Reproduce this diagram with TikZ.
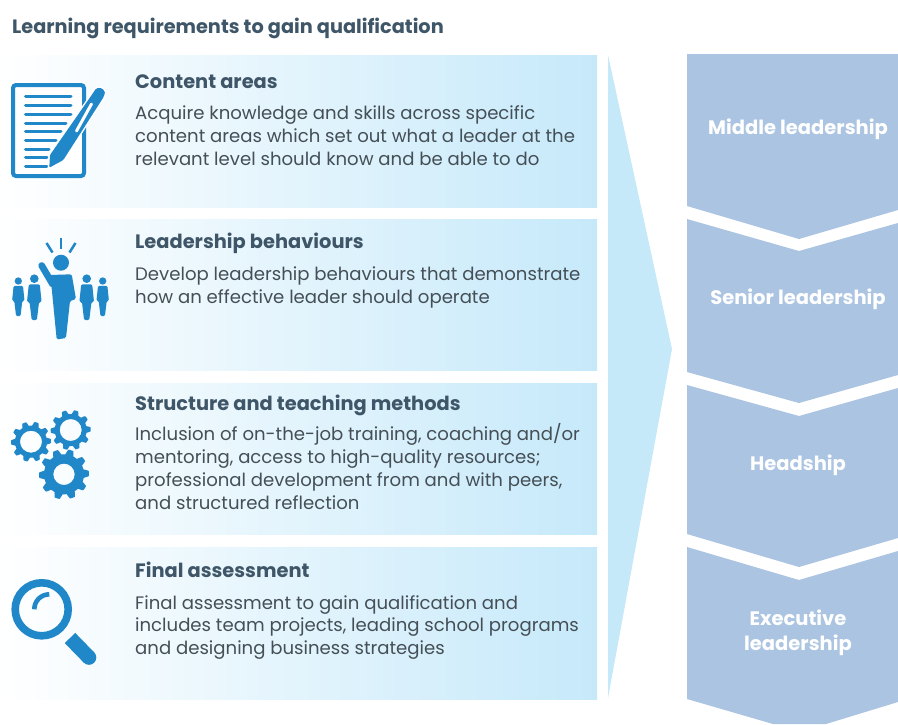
\documentclass[tikz,border=0pt]{standalone}
\usepackage{fontspec}
\setmainfont{Poppins}
\definecolor{iconblue}{HTML}{2087C8}
\definecolor{panelblue}{HTML}{C6E9FA}
\definecolor{chevblue}{HTML}{ABC4E2}
\definecolor{headcol}{HTML}{3E5667}
\definecolor{bodycol}{HTML}{454F56}
\tikzset{
  panel/.style={left color=white,right color=panelblue,shading angle=90},
  chev/.style={fill=chevblue},
  titletxt/.style={anchor=base west,inner sep=0,text=headcol,font=\fontsize{19.3}{22}\selectfont\bfseries},
  headtxt/.style={anchor=base west,inner sep=0,text=headcol,font=\fontsize{19.4}{22}\selectfont\bfseries},
  bodytxt/.style={anchor=north west,inner sep=0,align=left,text=bodycol,font=\fontsize{18.1}{22.8}\selectfont},
  chevtxt/.style={inner sep=0,align=center,text=white,font=\fontsize{19.5}{25}\selectfont\bfseries},
  icon/.style={fill=iconblue,draw=none},
  docline/.style={draw=iconblue,line width=3pt,line cap=round}
}
\newcommand{\personfig}[3]{%
  \begin{scope}[shift={(#1,#2)},scale=#3]
    \fill[iconblue] (0,0) circle (4.3);
    \fill[iconblue,rounded corners=1.2pt] (-5.5,5.7) -- (5.5,5.7) -- (7.3,23) -- (4.7,23.7) -- (2.6,41.3) -- (-2.6,41.3) -- (-4.7,23.7) -- (-7.3,23) -- cycle;
  \end{scope}}
\newcommand{\gearfig}[6]{% cx cy outer root hole teeth
  \fill[iconblue,even odd rule]
    plot[samples=181,domain=0:360,variable=\t]
      ({#1+(((#3+#4)/2)+((#3-#4)/2)*min(1,max(-1,1.9*cos(#6*\t+20))))*cos(\t)},
       {#2+(((#3+#4)/2)+((#3-#4)/2)*min(1,max(-1,1.9*cos(#6*\t+20))))*sin(\t)}) -- cycle
    (#1,#2) circle (#5);}
\begin{document}
\begin{tikzpicture}[x=1pt,y=-1pt]
\useasboundingbox (0,0) rectangle (898,724);
\fill[white] (0,0) rectangle (898,724);
% panels
\shade[panel] (0,55) rectangle (597,207);
\shade[panel] (0,219) rectangle (597,370);
\shade[panel] (0,383) rectangle (597,534);
\shade[panel] (0,547) rectangle (597,699);
% big arrow
\fill[panelblue] (608,55) -- (672,349) -- (608,698) -- cycle;
% chevrons
\fill[chev] (687,54) -- (898,54) -- (898,210) -- (799,239) -- (687,206) -- cycle;
\fill[chev] (687,219) -- (799,251) -- (898,223) -- (898,375) -- (799,403) -- (687,372) -- cycle;
\fill[chev] (687,385) -- (799,416) -- (898,388) -- (898,538) -- (799,567) -- (687,534) -- cycle;
\fill[chev] (687,547) -- (799,580) -- (898,551) -- (898,702) -- (826,724) -- (773,724) -- (687,699) -- cycle;
% texts
\node[titletxt] (title) at (12,33) {Learning requirements to gain qualification};
\node[headtxt] (h1) at (135,88) {Content areas};
\node[bodytxt] (b1) at (135,105.5) {Acquire knowledge and skills across specific\\content areas which set out what a leader at the\\relevant level should know and be able to do};
\node[headtxt] (h2) at (135,248) {Leadership behaviours};
\node[bodytxt] (b2) at (135,266.5) {Develop leadership behaviours that demonstrate\\how an effective leader should operate};
\node[headtxt] (h3) at (135,410) {Structure and teaching methods};
\node[bodytxt] (b3) at (135,423.5) {Inclusion of on-the-job training, coaching and/or\\mentoring, access to high-quality resources;\\professional development from and with peers,\\and structured reflection};
\node[headtxt] (h4) at (135,577) {Final assessment};
\node[bodytxt] (b4) at (135,595) {Final assessment to gain qualification and\\includes team projects, leading school programs\\and designing business strategies};
\node[chevtxt] (c1) at (798,129) {Middle leadership};
\node[chevtxt] (c2) at (798,299) {Senior leadership};
\node[chevtxt] (c3) at (798,465) {Headship};
\node[chevtxt] (c4) at (798,632.5) {Executive\\leadership};
% icon 1: document and pen
\draw[iconblue,line width=4pt,fill=white,rounded corners=3pt] (13,85) rectangle (84,176);
\foreach \yy/\xe in {96.7/71,105.7/71,114.3/71,123/66,131.7/61,140.3/56,149/49,157.7/47,166.3/47}
  \draw[docline] (25.5,\yy) -- (\xe,\yy);
\path[fill=iconblue,draw=white,line width=3pt,line join=round] (49.3,167.7) -- (50,155) -- (91.7,95) -- (95,90) .. controls (98,86.5) and (104,88) .. (105,93.3) -- (103,98) -- (63.3,160) -- cycle;
\fill[iconblue,rounded corners=1pt] (49.3,167.7) -- (50,155) -- (91.7,95) -- (95,90) .. controls (98,86.5) and (104,88) .. (105,93.3) -- (103,98) -- (63.3,160) -- cycle;
\draw[white,line width=3pt,line cap=round] (91.5,104) -- (76.5,131);
% icon 2: people
\fill[iconblue] (61,262.7) circle (8);
\draw[iconblue,line width=2.5pt] (61,238) -- (61,249);
\draw[iconblue,line width=2.5pt] (46.5,243) -- (52.5,252.5);
\draw[iconblue,line width=2.5pt] (75.5,243) -- (69.5,252.5);
\fill[iconblue,rounded corners=1.5pt] (50,275) -- (71.7,274.3) -- (76,299) -- (70,301) -- (66,338) -- (56.7,339.5) -- (51.7,288.3) -- cycle;
\draw[iconblue,line width=6.7pt,line cap=round] (41.7,265.5) -- (52.5,284);
\personfig{18.3}{281}{.85}
\personfig{34.3}{278.7}{1}
\personfig{86.7}{278.7}{1}
\personfig{102.7}{281}{.85}
% icon 3: gears
\gearfig{31}{441.7}{20}{16}{11}{10}
\gearfig{70.7}{430}{20}{16}{11}{10}
\gearfig{64}{474.3}{25}{20}{10.7}{10}
% icon 4: magnifier
\draw[iconblue,line width=7.6pt] (41.7,609.3) circle (26.5);
\draw[iconblue,line width=4.6pt] (34.3,609.3) .. controls (34.3,601) and (41,594.3) .. (49.3,594.3);
\draw[iconblue,line width=14.6pt] (70,638) -- (89,657.5);
\fill[iconblue] (89,657.5) circle (7.3);
\end{tikzpicture}
\end{document}
